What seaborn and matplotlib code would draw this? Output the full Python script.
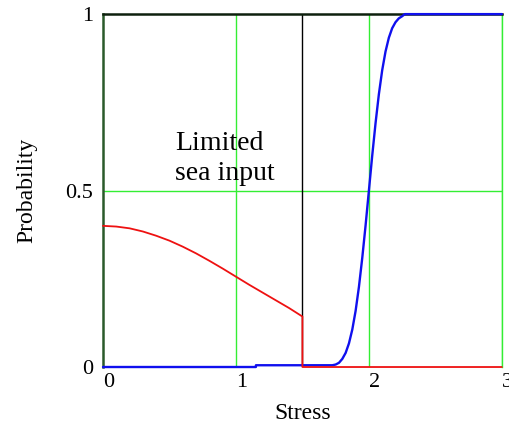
import numpy as np
import pandas as pd
import matplotlib
matplotlib.use('Agg')
import matplotlib.pyplot as plt
import seaborn as sns

# red curve: limited sea input, cut off at stress 1.5
red_x = [0.0, 0.1, 0.2, 0.3, 0.4, 0.5, 0.6, 0.7, 0.8, 0.9, 1.0, 1.1, 1.2, 1.3, 1.4, 1.5, 1.5, 3.0]
red_y = [0.400, 0.398, 0.393, 0.384, 0.372, 0.358, 0.341, 0.322, 0.301, 0.279, 0.256, 0.233, 0.211, 0.189, 0.167, 0.143, 0.0, 0.0]

# blue curve: cumulative probability
blue_x = [0.0, 1.15, 1.15, 1.725, 1.75, 1.775, 1.80, 1.825, 1.85, 1.875, 1.90, 1.925, 1.95, 1.975,
          2.00, 2.025, 2.05, 2.075, 2.10, 2.125, 2.15, 2.175, 2.20, 2.225, 2.25, 2.27, 3.0]
blue_y = [0.0, 0.0, 0.005, 0.005, 0.007, 0.012, 0.023, 0.040, 0.067, 0.106, 0.159, 0.227, 0.309, 0.401,
          0.500, 0.599, 0.691, 0.773, 0.841, 0.894, 0.933, 0.960, 0.977, 0.988, 0.994, 1.0, 1.0]

limit_x = 1.5
x_ticks = [0, 1, 2, 3]
y_ticks = [0, 0.5, 1]
y_ticklabels = ['0', '0.5', '1']

sns.set_style('white')
plt.rcParams['font.family'] = ['Liberation Serif', 'DejaVu Serif']
plt.rcParams['text.color'] = 'black'
plt.rcParams['axes.labelcolor'] = 'black'

fig = plt.figure(figsize=(5.1, 4.28), dpi=100)
ax = fig.add_axes([0.202, 0.1425, 0.782, 0.8245])

grid_green = '#33ee33'
for gx in [1, 2, 3]:
    ax.axvline(gx, color=grid_green, lw=1.0, zorder=1)
ax.axhline(0.5, color=grid_green, lw=1.0, zorder=1)

ax.plot([limit_x, limit_x], [0, 1], color='black', lw=1.0, zorder=2)

blue_df = pd.DataFrame({'x': blue_x, 'y': blue_y})
red_df = pd.DataFrame({'x': red_x, 'y': red_y})
sns.lineplot(data=blue_df, x='x', y='y', ax=ax, color='#1010ee', lw=1.7,
             estimator=None, sort=False, clip_on=False, zorder=3)
sns.lineplot(data=red_df, x='x', y='y', ax=ax, color='#ee1111', lw=1.3,
             estimator=None, sort=False, clip_on=False, zorder=4)

ax.set_xlim(0, 3)
ax.set_ylim(0, 1)
ax.set_xticks(x_ticks)
ax.set_xticklabels([str(t) for t in x_ticks], ha='left')
ax.set_yticks(y_ticks)
ax.set_yticklabels(y_ticklabels)
ax.tick_params(axis='both', length=0, labelsize=16, colors='black')
ax.tick_params(axis='x', pad=4)
ax.tick_params(axis='y', pad=7)

ax.spines['left'].set_color('#2a5a2a')
ax.spines['left'].set_linewidth(1.8)
ax.spines['top'].set_color('#0d200d')
ax.spines['top'].set_linewidth(1.8)
ax.spines['right'].set_color(grid_green)
ax.spines['right'].set_linewidth(1.0)
ax.spines['bottom'].set_visible(False)

ax.set_xlabel('Stress', fontsize=17, labelpad=8)
ax.set_ylabel('Probability', fontsize=17, labelpad=20)

ax.text(0.54, 0.615, 'Limited', fontsize=20, ha='left', va='baseline', zorder=5)
ax.text(0.54, 0.53, 'sea input', fontsize=20, ha='left', va='baseline', zorder=5)

fig.savefig('out.png', dpi=100)
